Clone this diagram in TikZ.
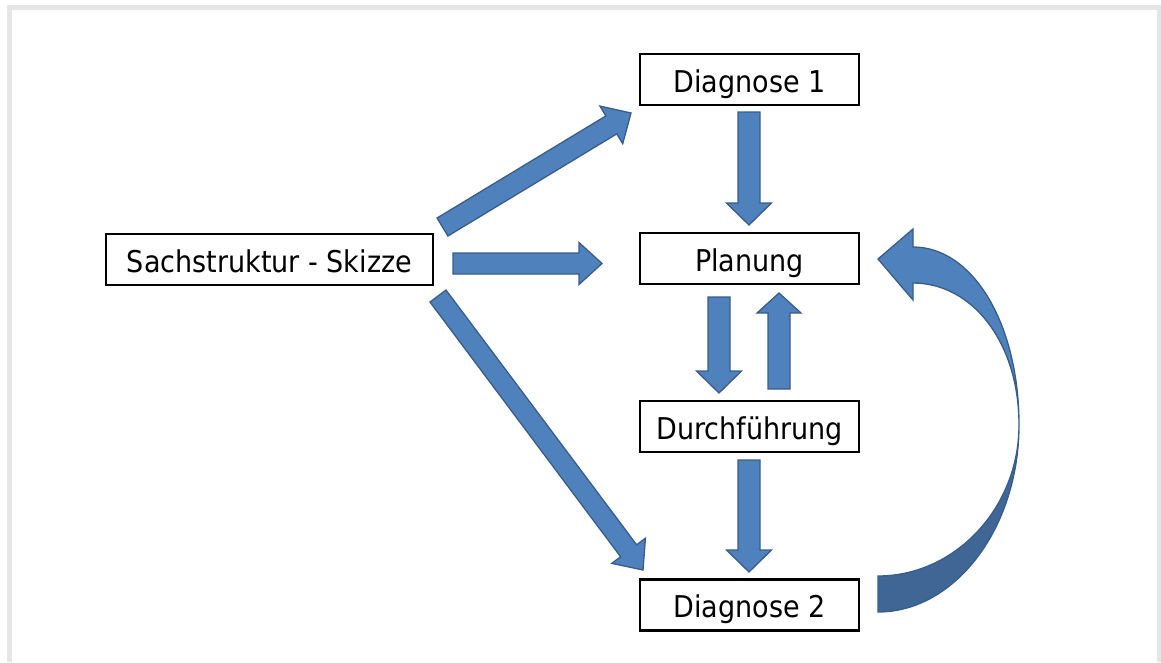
\documentclass[tikz,border=0pt]{standalone}
\usepackage{fontspec}
\setmainfont{DejaVu Sans}[FakeStretch=0.9]
\usetikzlibrary{calc}
\definecolor{arrfill}{RGB}{79,129,189}
\definecolor{arrdraw}{RGB}{56,93,138}
\definecolor{arrdark}{RGB}{64,102,150}
\definecolor{framegray}{RGB}{230,230,230}
\tikzset{
  box/.style={draw=black, line width=2.2pt, minimum height=51pt, inner sep=0pt,
    text height=30pt, text depth=5pt, font=\fontsize{30}{36}\selectfont},
  stdbox/.style={box, minimum width=219pt},
  barrow/.style={fill=arrfill, draw=arrdraw, line width=1.3pt, line join=miter},
  darkarrow/.style={fill=arrdark, draw=arrdraw, line width=1.3pt},
}
% #1 tail, #2 tip, #3 half shaft width, #4 half head width, #5 head length
\newcommand\blockarrow[5]{%
  \coordinate (hb) at ($(#2)!#5!(#1)$);
  \path[barrow] ($(#1)!#3!90:(#2)$) -- ($(hb)!#3!90:(#2)$) -- ($(hb)!#4!90:(#2)$)
    -- (#2) -- ($(hb)!#4!-90:(#2)$) -- ($(hb)!#3!-90:(#2)$) -- ($(#1)!#3!-90:(#2)$) -- cycle;
}
\begin{document}
\begin{tikzpicture}[x=1pt, y=-1pt]
\useasboundingbox (0,0) rectangle (1161,662);
\draw[framegray, line width=5pt] (9.5,662) -- (9.5,7.5) -- (1159.5,7.5) -- (1159.5,662);

\node[stdbox] (d1) at (749.5,79.5) {Diagnose 1};
\node[stdbox] (pl) at (749.5,258.5) {Planung};
\node[stdbox] (du) at (749.5,426.5) {Durchführung};
\node[stdbox] (d2) at (749.5,605) {Diagnose 2};
\node[box, minimum width=327pt] (sk) at (269.5,259.5) {Sachstruktur - Skizze};

% straight block arrows
\coordinate (skd1a) at (442.5,227); \coordinate (skd1b) at (631,113);
\coordinate (skpla) at (453,263.5); \coordinate (skplb) at (602,263.5);
\coordinate (skd2a) at (438,296);   \coordinate (skd2b) at (643,570);
\coordinate (d1pla) at (749,112);   \coordinate (d1plb) at (749,225);
\coordinate (pldua) at (719,297);   \coordinate (pldub) at (719,393);
\coordinate (dupla) at (779,389);   \coordinate (duplb) at (779,293);
\coordinate (dud2a) at (749,460);   \coordinate (dud2b) at (749,572);

\blockarrow{skd1a}{skd1b}{10.5pt}{22pt}{23pt}
\blockarrow{skpla}{skplb}{10.5pt}{21pt}{23pt}
\blockarrow{skd2a}{skd2b}{10pt}{21pt}{24pt}
\blockarrow{d1pla}{d1plb}{11pt}{22.5pt}{22pt}
\blockarrow{pldua}{pldub}{11pt}{22.5pt}{22pt}
\blockarrow{dupla}{duplb}{11pt}{22pt}{20pt}
\blockarrow{dud2a}{dud2b}{11pt}{22.5pt}{22pt}

% curved arrow from Diagnose 2 back to Planung
\coordinate (twist) at (1019,425);
\path[darkarrow] (twist) .. controls (1019,528) and (955,612) .. (878,612)
  -- (878,576) .. controls (955,576) and (1019,508) .. (twist) -- cycle;
\path[barrow] (twist) .. controls (1019,324) and (973,247) .. (913,247)
  -- (913,229) -- (878,259) -- (913,300) -- (913,283)
  .. controls (972,283) and (1019,342) .. (twist) -- cycle;
\end{tikzpicture}
\end{document}
